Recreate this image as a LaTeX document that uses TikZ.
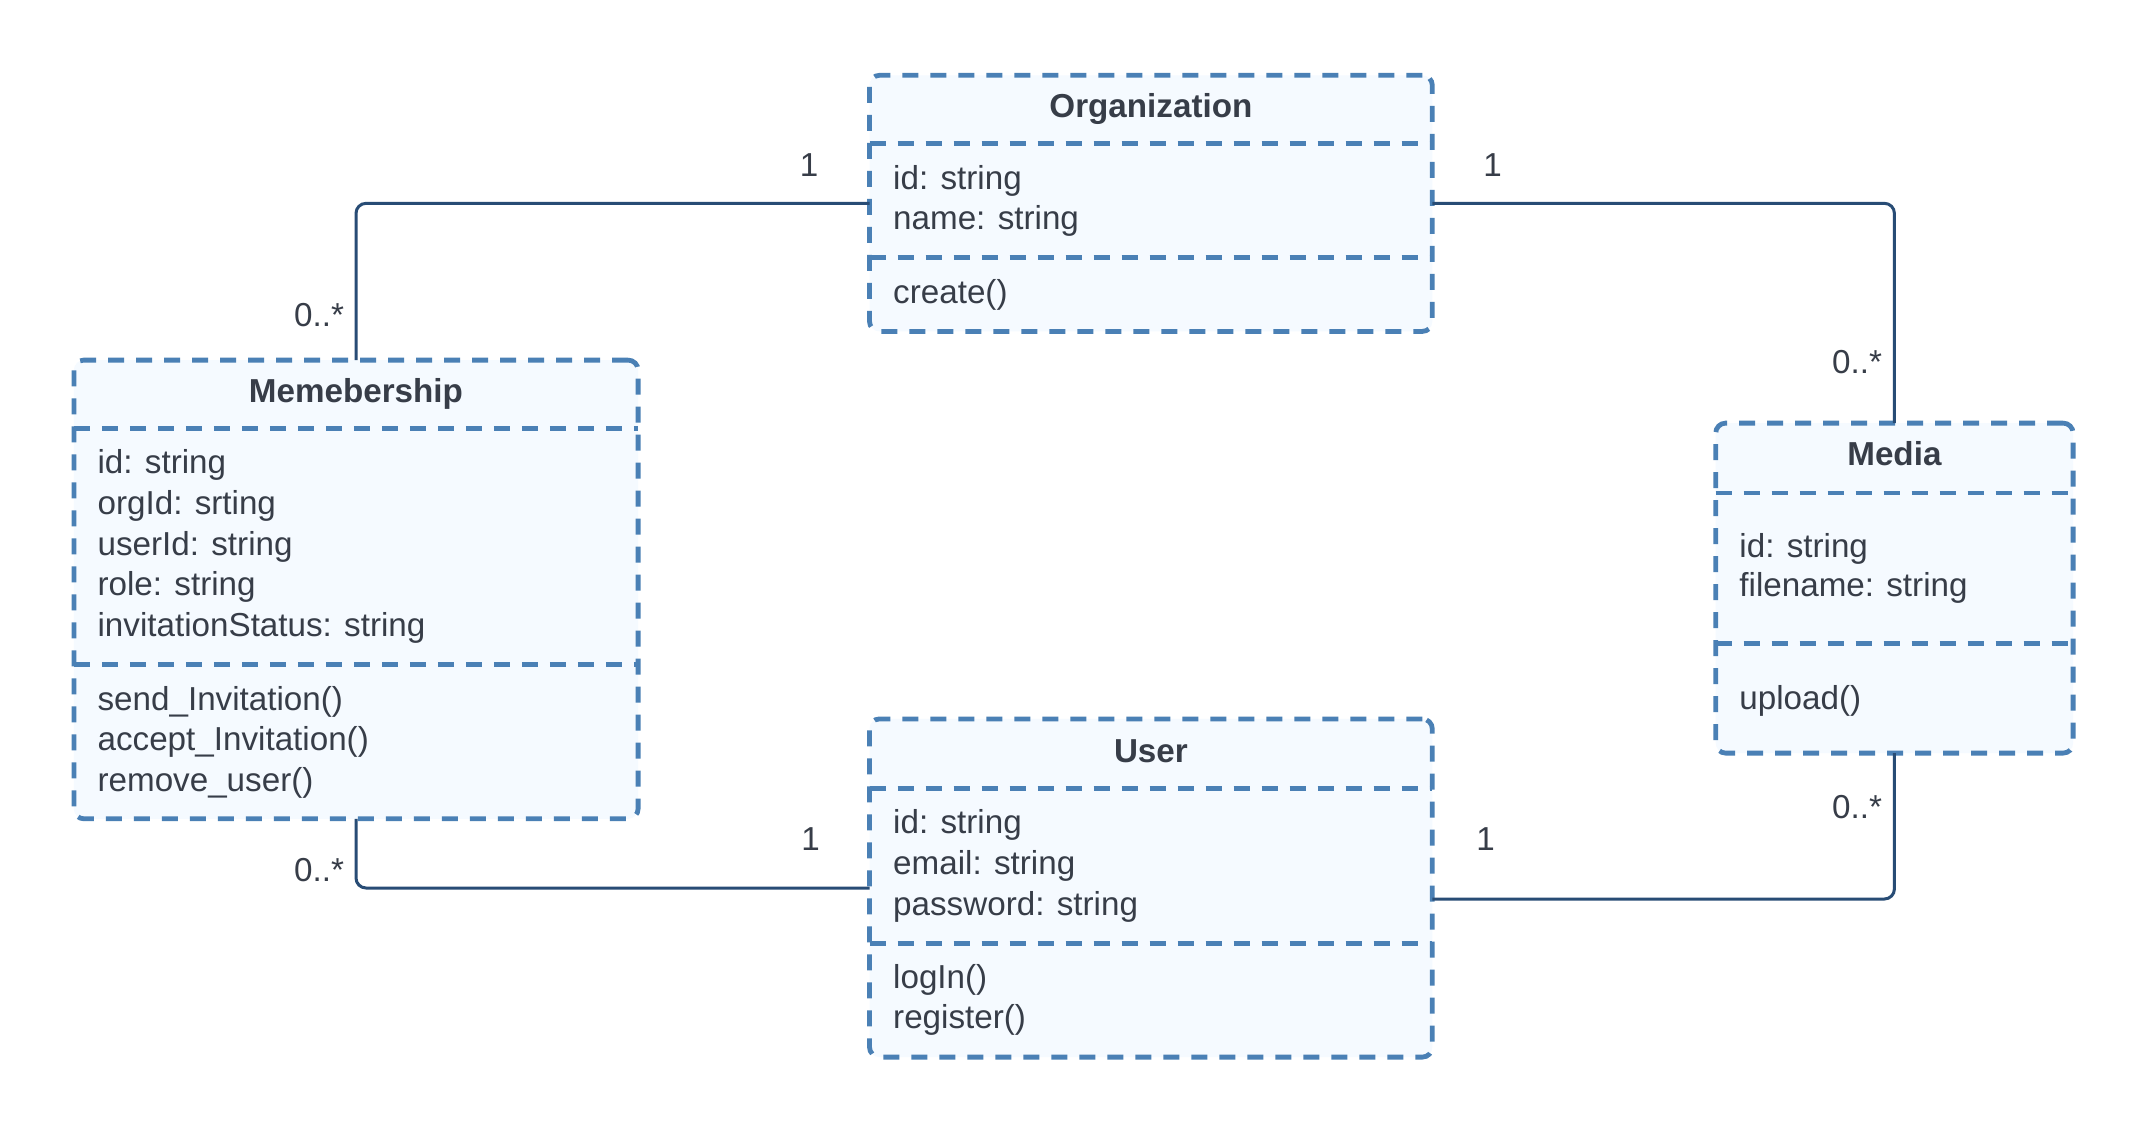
\documentclass[tikz,border=0pt]{standalone}
\usepackage{fontspec}
\setmainfont{Liberation Sans}
\definecolor{boxborder}{RGB}{74,128,181}
\definecolor{boxfill}{RGB}{245,250,255}
\definecolor{txt}{RGB}{55,61,72}
\definecolor{conn}{RGB}{40,76,117}
\tikzset{
  umlbox/.style={draw=boxborder, fill=boxfill, line width=2.4pt, dash pattern=on 8pt off 6pt, rounded corners=5pt, outer sep=0pt, inner sep=0pt},
  divider/.style={draw=boxborder, line width=2.4pt, dash pattern=on 8pt off 6pt},
  ttl/.style={font=\fontsize{16.6}{20}\selectfont\bfseries, text=txt, inner sep=0pt, anchor=base},
  item/.style={font=\fontsize{16.6}{20}\selectfont, text=txt, anchor=base west, inner sep=0pt},
  mult/.style={font=\fontsize{16.6}{20}\selectfont, text=txt, inner sep=0pt},
  assoc/.style={draw=conn, line width=1.5pt, rounded corners=5pt}
}
\begin{document}
\begin{tikzpicture}[x=0.5pt,y=-0.5pt]
\useasboundingbox[fill=white] (0,0) rectangle (2147,1134);
% boxes
\node[umlbox, minimum width=281.4pt, minimum height=128.05pt] (org) at (1150.9,203.35) {};
\node[umlbox, minimum width=282.1pt, minimum height=229.35pt] (mem) at (356,589.45) {};
\node[umlbox, minimum width=178.7pt, minimum height=165pt] (media) at (1894.4,588.1) {};
\node[umlbox, minimum width=281.4pt, minimum height=169.1pt] (user) at (1150.9,888) {};
% dividers
\draw[divider] (org.west |- 0,143.8) -- (org.east |- 0,143.8);
\draw[divider] (org.west |- 0,257.4) -- (org.east |- 0,257.4);
\draw[divider] (mem.west |- 0,428.6) -- (mem.east |- 0,428.6);
\draw[divider] (mem.west |- 0,664.1) -- (mem.east |- 0,664.1);
\draw[divider] (media.west |- 0,492.9) -- (media.east |- 0,492.9);
\draw[divider] (media.west |- 0,643.6) -- (media.east |- 0,643.6);
\draw[divider] (user.west |- 0,788.7) -- (user.east |- 0,788.7);
\draw[divider] (user.west |- 0,943.4) -- (user.east |- 0,943.4);
% Organization text
\node[ttl] (orgT) at (org.north |- 0,117.4) {Organization};
\node[item] (orgA1) at (892.8,190) {id: string};
\node[item] (orgA2) at (892.8,229.7) {name: string};
\node[item] (orgM1) at (892.8,303.7) {create()};
% Membership text
\node[ttl] (memT) at (mem.north |- 0,402) {Memebership};
\node[item] (memA1) at (97.2,473.5) {id: string};
\node[item] (memA2) at (97.2,514.5) {orgId: srting};
\node[item] (memA3) at (97.2,555.6) {userId: string};
\node[item] (memA4) at (97.2,595.3) {role: string};
\node[item] (memA5) at (97.2,636.4) {invitationStatus: string};
\node[item] (memM1) at (97.2,710.3) {send\_Invitation()};
\node[item] (memM2) at (97.2,750.1) {accept\_Invitation()};
\node[item] (memM3) at (97.2,791.1) {remove\_user()};
% Media text
\node[ttl] (mediaT) at (media.north |- 0,465.2) {Media};
\node[item] (mediaA1) at (1739,557) {id: string};
\node[item] (mediaA2) at (1739,596.7) {filename: string};
\node[item] (mediaM1) at (1739,709) {upload()};
% User text
\node[ttl] (userT) at (user.north |- 0,762.4) {User};
\node[item] (userA1) at (892.8,833.6) {id: string};
\node[item] (userA2) at (892.8,874.6) {email: string};
\node[item] (userA3) at (892.8,915.7) {password: string};
\node[item] (userM1) at (892.8,988.3) {logIn()};
\node[item] (userM2) at (892.8,1028) {register()};
% connectors
\coordinate (ur) at ([yshift=-5.5pt]user.east);
\draw[assoc] (org.west) -| (mem.north);
\draw[assoc] (org.east) -| (media.north);
\draw[assoc] (mem.south) |- (user.west);
\draw[assoc] (ur) -| (media.south);
% multiplicities
\node[mult] (m1) at (809,165) {1};
\node[mult] (m2) at (319,315) {0..*};
\node[mult] (m3) at (1492.5,165) {1};
\node[mult] (m4) at (1857,362) {0..*};
\node[mult] (m5) at (319,870) {0..*};
\node[mult] (m6) at (810.6,839) {1};
\node[mult] (m7) at (1485.7,839) {1};
\node[mult] (m8) at (1857,807) {0..*};
\end{tikzpicture}
\end{document}
